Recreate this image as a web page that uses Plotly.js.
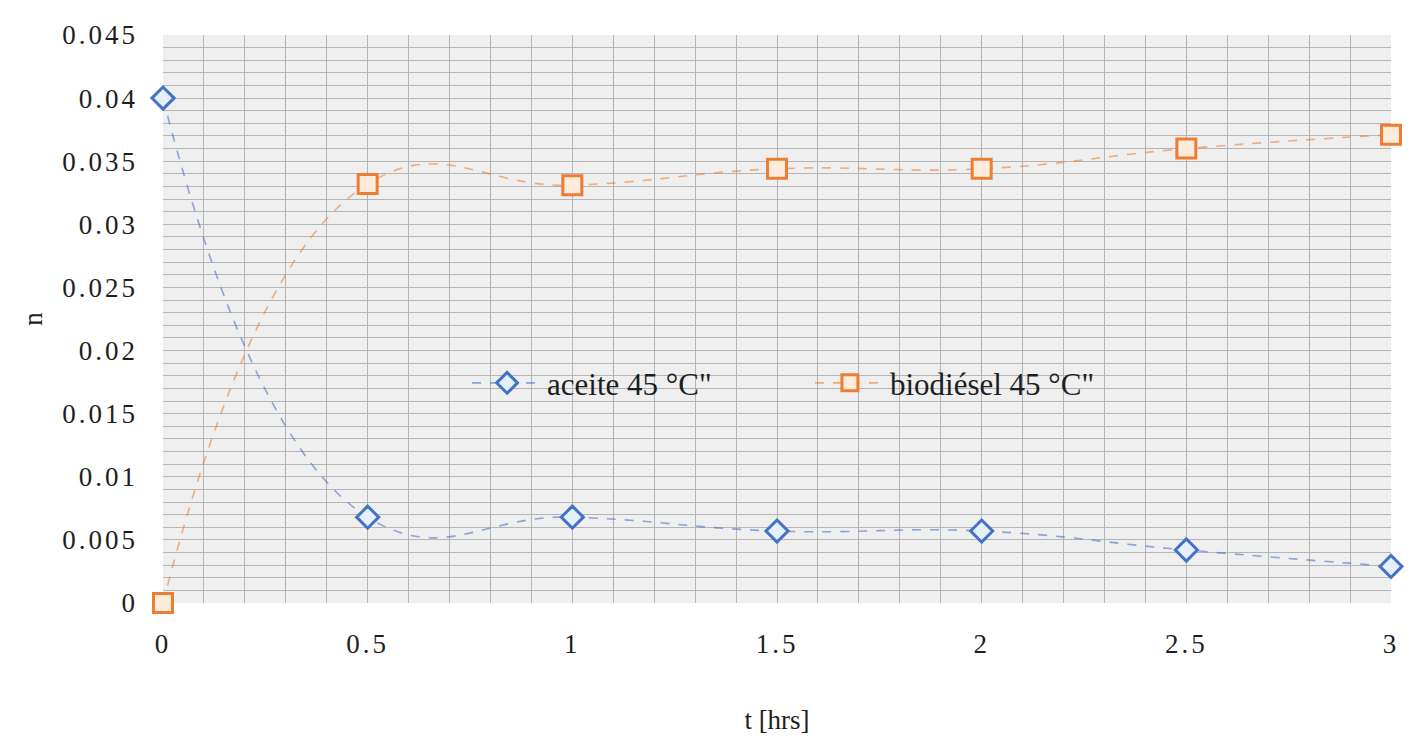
<!DOCTYPE html>
<html>
<head>
<meta charset="utf-8">
<script src="https://cdn.plot.ly/plotly-3.0.1.min.js"></script>
<style>
html,body{margin:0;padding:0;background:#fff;}
#chart{width:1411px;height:738px;}
#chart .xtick text, #chart .ytick text{letter-spacing:3px;}
</style>
</head>
<body>
<div id="chart"></div>
<script>
const tHours = [0, 0.5, 1, 1.5, 2, 2.5, 3];
const aceite = [0.0400, 0.0068, 0.0068, 0.0057, 0.0057, 0.0042, 0.0029];
const biodiesel = [0.0000, 0.0332, 0.0331, 0.0344, 0.0344, 0.0360, 0.0371];
const seriesNames = ['aceite 45 °C"', 'biodiésel 45 °C"'];
const xTickVals = [0, 0.5, 1, 1.5, 2, 2.5, 3];
const xTickText = ['0', '0.5', '1', '1.5', '2', '2.5', '3'];
const yTickVals = [0, 0.005, 0.01, 0.015, 0.02, 0.025, 0.03, 0.035, 0.04, 0.045];
const yTickText = ['0', '0.005', '0.01', '0.015', '0.02', '0.025', '0.03', '0.035', '0.04', '0.045'];

const serif = 'Liberation Serif, Times New Roman, serif';
const txt = {family: serif, size: 27, color: '#1e1e1e'};
const legTxt = {family: serif, size: 31, color: '#1e1e1e'};
const traces = [
  {
    x: tHours, y: aceite, name: seriesNames[0], type: 'scatter', mode: 'lines+markers', legend: 'legend',
    line: {color: 'rgba(68,114,196,0.6)', width: 1.6, dash: 'dash', shape: 'spline', smoothing: 1.3},
    marker: {symbol: 'diamond', size: 17, color: '#e6f0fb', line: {color: '#4472C4', width: 3}},
    cliponaxis: false
  },
  {
    x: tHours, y: biodiesel, name: seriesNames[1], type: 'scatter', mode: 'lines+markers', legend: 'legend2',
    line: {color: 'rgba(237,125,49,0.6)', width: 1.6, dash: 'dash', shape: 'spline', smoothing: 1.3},
    marker: {symbol: 'square', size: 19, color: '#fdebdc', line: {color: '#ED7D31', width: 3}},
    cliponaxis: false
  }
];
const layout = {
  width: 1411, height: 738,
  margin: {l: 163, r: 20, t: 35, b: 135},
  paper_bgcolor: '#ffffff', plot_bgcolor: '#efefef',
  font: txt,
  showlegend: true,
  legend: {orientation: 'h', x: 0.2476, y: 0.387, xanchor: 'left', yanchor: 'middle',
           bgcolor: 'rgba(0,0,0,0)', font: legTxt, itemwidth: 70},
  legend2: {orientation: 'h', x: 0.5268, y: 0.387, xanchor: 'left', yanchor: 'middle',
           bgcolor: 'rgba(0,0,0,0)', font: legTxt, itemwidth: 70},
  xaxis: {
    range: [0, 3], tickmode: 'array', tickvals: xTickVals, ticktext: xTickText,
    showgrid: true, gridcolor: '#b4b4b4', gridwidth: 1,
    minor: {dtick: 0.1, showgrid: true, gridcolor: '#b4b4b4', gridwidth: 1},
    zeroline: false, showline: false, ticks: '', ticklabelstandoff: 22,
    tickfont: txt,
    title: {text: 't [hrs]', font: txt, standoff: 52}
  },
  yaxis: {
    range: [0, 0.045], tickmode: 'array', tickvals: yTickVals, ticktext: yTickText,
    showgrid: true, gridcolor: '#b4b4b4', gridwidth: 1,
    minor: {dtick: 0.001, showgrid: true, gridcolor: '#b4b4b4', gridwidth: 1},
    zeroline: false, showline: false, ticks: '', ticklabelstandoff: 24,
    tickfont: txt,
    title: {text: 'n', font: txt, standoff: 26}
  }
};
Plotly.newPlot('chart', traces, layout, {displayModeBar: false, staticPlot: true});
</script>
</body>
</html>
